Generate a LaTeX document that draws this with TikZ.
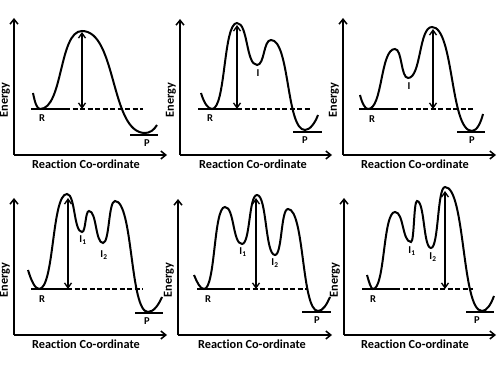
\documentclass[tikz,border=0pt]{standalone}
\usepackage{fontspec}
\setmainfont{Carlito}[Ligatures=NoCommon]
\usetikzlibrary{arrows.meta,calc}
\tikzset{
  axis/.style={line width=1.5pt, -{Straight Barb[length=5pt,width=8pt]}},
  curve/.style={line width=2pt},
  wave/.style={to path={.. controls ($(\tikztostart)!0.55!(\tikztotarget |- \tikztostart)$)
    and ($(\tikztotarget)!0.55!(\tikztostart |- \tikztotarget)$) .. (\tikztotarget) \tikztonodes}},
  level/.style={line width=1.6pt},
  dashlevel/.style={line width=1.5pt, dash pattern=on 5pt off 2.5pt},
  barrier/.style={line width=1.3pt, {Straight Barb[length=5pt,width=7pt]}-{Straight Barb[length=5pt,width=7pt]}},
  lbl/.style={font=\bfseries\fontsize{10.5}{11}\selectfont, inner sep=0pt},
  axlbl/.style={font=\bfseries\fontsize{12.3}{13}\selectfont, inner sep=0pt}
}
\begin{document}
\begin{tikzpicture}[x=1pt, y=1pt]
\useasboundingbox (0,0) rectangle (500,375);

% top left
\coordinate (o1) at (14,220);
\draw[axis] (o1) -- (14,357);
\draw[axis] (o1) -- (167,220);
\node[axlbl, rotate=90] (e1) at (5,275) {Energy};
\node[axlbl] (rc1) at (86,211) {Reaction Co-ordinate};
\draw[curve] (33,282) .. controls (35,272) and (37,266) .. (40,266)
  to[wave] (82,344) to[wave] (145,242) .. controls (150,242) and (154,245) .. (157,250);
\draw[level] (31,266) -- (65,266);
\draw[dashlevel] (65,266) -- (143,266);
\draw[level] (130,240) -- (158,240);
\node[lbl] (R1) at (42,257) {R};
\node[lbl] (P1) at (147,232) {P};
\coordinate (ts1) at (82,343);
\coordinate (rb1) at (82,266);
\draw[barrier] (ts1) -- (rb1);

% top middle
\coordinate (o2) at (180,220);
\draw[axis] (o2) -- (180,356);
\draw[axis] (o2) -- (332,220);
\node[axlbl, rotate=90] (e2) at (171,275) {Energy};
\node[axlbl] (rc2) at (253,211) {Reaction Co-ordinate};
\draw[curve] (201,282) .. controls (204,272) and (208,266) .. (212,266)
  to[wave] (237,352) to[wave] (257,310) to[wave] (271,335)
  to[wave] (305,245) .. controls (310,245) and (315,252) .. (318,260);
\draw[level] (198,266) -- (237,266);
\draw[dashlevel] (237,266) -- (310,266);
\draw[level] (293,243) -- (322,243);
\node[lbl] (R2) at (210,257) {R};
\node[lbl] (I2) at (258,302) {I};
\node[lbl] (P2) at (305,235) {P};
\coordinate (ts2) at (237,350);
\coordinate (rb2) at (237,266);
\draw[barrier] (ts2) -- (rb2);

% top right
\coordinate (o3) at (343,220);
\draw[axis] (o3) -- (343,357);
\draw[axis] (o3) -- (496,220);
\node[axlbl, rotate=90] (e3) at (334,275) {Energy};
\node[axlbl] (rc3) at (415,211) {Reaction Co-ordinate};
\draw[curve] (360,280) .. controls (362,272) and (365,266) .. (368,266)
  to[wave] (395,326) to[wave] (408,297) to[wave] (432,348)
  to[wave] (472,244) .. controls (477,244) and (481,253) .. (483,261);
\draw[level] (359,266) -- (393,266);
\draw[dashlevel] (393,266) -- (473,266);
\draw[level] (457,243) -- (485,243);
\node[lbl] (R3) at (372,256) {R};
\node[lbl] (I3) at (409,289) {I};
\node[lbl] (P3) at (472,235) {P};
\coordinate (ts3) at (433,346);
\coordinate (rb3) at (433,266);
\draw[barrier] (ts3) -- (rb3);

% bottom left
\coordinate (o4) at (14,40);
\draw[axis] (o4) -- (14,177);
\draw[axis] (o4) -- (167,40);
\node[axlbl, rotate=90] (e4) at (5,95) {Energy};
\node[axlbl] (rc4) at (86,31) {Reaction Co-ordinate};
\draw[curve] (28,105) .. controls (31,95) and (35,86) .. (39,86)
  to[wave] (67,181) to[wave] (82,143) to[wave] (89,164)
  to[wave] (103,132) to[wave] (115,174)
  to[wave] (148,63) .. controls (154,63) and (159,71) .. (162,78);
\draw[level] (31,86) -- (67,86);
\draw[dashlevel] (67,86) -- (143,86);
\draw[level] (135,62) -- (163,62);
\node[lbl] (R4) at (42,76) {R};
\node[lbl] (Ia4) at (83,135) {I\textsubscript{1}};
\node[lbl] (Ib4) at (104,120) {I\textsubscript{2}};
\node[lbl] (P4) at (147,54) {P};
\coordinate (ts4) at (68,177);
\coordinate (rb4) at (68,86);
\draw[barrier] (ts4) -- (rb4);

% bottom middle
\coordinate (o5) at (178,40);
\draw[axis] (o5) -- (178,176);
\draw[axis] (o5) -- (332,40);
\node[axlbl, rotate=90] (e5) at (169,95) {Energy};
\node[axlbl] (rc5) at (252,31) {Reaction Co-ordinate};
\draw[curve] (194,100) .. controls (197,93) and (200,86) .. (204,86)
  to[wave] (225,168) to[wave] (242,131) to[wave] (257,180)
  to[wave] (275,120) to[wave] (288,166)
  to[wave] (318,64) .. controls (323,64) and (327,71) .. (330,78);
\draw[level] (197,86) -- (230,86);
\draw[dashlevel] (230,86) -- (308,86);
\draw[level] (302,63) -- (331,63);
\node[lbl] (R5) at (208,76) {R};
\node[lbl] (Ia5) at (243,123) {I\textsubscript{1}};
\node[lbl] (Ib5) at (275,112) {I\textsubscript{2}};
\node[lbl] (P5) at (317,55) {P};
\coordinate (ts5) at (256,177);
\coordinate (rb5) at (256,86);
\draw[barrier] (ts5) -- (rb5);

% bottom right
\coordinate (o6) at (344,40);
\draw[axis] (o6) -- (344,177);
\draw[axis] (o6) -- (496,40);
\node[axlbl, rotate=90] (e6) at (335,95) {Energy};
\node[axlbl] (rc6) at (415,31) {Reaction Co-ordinate};
\draw[curve] (367,100) .. controls (369,93) and (371,86) .. (373,86)
  to[wave] (395,163) to[wave] (411,133) to[wave] (417,174)
  to[wave] (431,127) to[wave] (445,188)
  to[wave] (482,64) .. controls (487,64) and (491,71) .. (494,79);
\draw[level] (362,86) -- (395,86);
\draw[dashlevel] (395,86) -- (473,86);
\draw[level] (466,63) -- (494,63);
\node[lbl] (R6) at (373,76) {R};
\node[lbl] (Ia6) at (412,124) {I\textsubscript{1}};
\node[lbl] (Ib6) at (433,118) {I\textsubscript{2}};
\node[lbl] (P6) at (477,55) {P};
\coordinate (ts6) at (445,184);
\coordinate (rb6) at (445,86);
\draw[barrier] (ts6) -- (rb6);
\end{tikzpicture}
\end{document}
